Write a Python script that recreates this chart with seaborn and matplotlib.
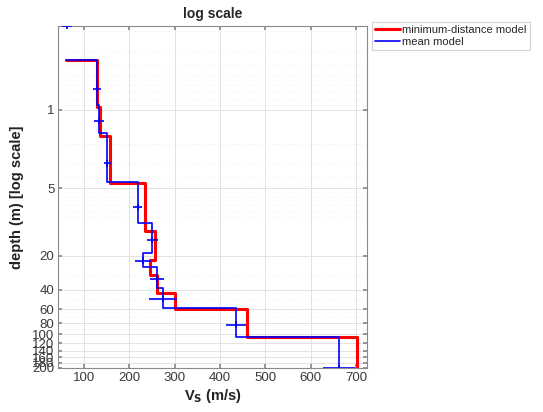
import numpy as np
import pandas as pd
import matplotlib
matplotlib.use("Agg")
import matplotlib.pyplot as plt
import seaborn as sns

# ---- data ----
v_top = 60.0
top_depth = 0.358

red_interfaces = [0.358, 0.94, 1.71, 4.49, 12.0, 21.8, 29.7, 43.1, 59.8, 105.0, 200.0]
red_vs = [128.7, 135.3, 157.4, 234.6, 256.6, 245.6, 261.0, 300.7, 459.6, 702.0]

blue_interfaces = [0.358, 0.902, 1.605, 4.39, 10.2, 18.9, 25.2, 38.8, 58.6, 105.6, 200.0]
blue_vs = [127.6, 134.0, 151.4, 218.5, 250.7, 230.0, 262.0, 275.0, 435.0, 662.5]

cross_vs = [61.8, 127.6, 134.0, 151.4, 218.5, 250.7, 230.0, 262.0, 275.0, 435.0, 662.5]
cross_depth = [0.179, 0.649, 1.25, 3.0, 7.3, 14.55, 22.05, 32.0, 48.7, 82.0, 200.0]
cross_verr = [11, 8.8, 11, 8, 10.4, 11.7, 18.3, 15.4, 31, 22, 35]
cross_derr = [0.012, 0.045, 0.08, 0.2, 0.45, 0.9, 1.4, 2.0, 3.0, 5.0, 12.0]

ytick_vals = [1, 5, 20, 40, 60, 80, 100, 120, 140, 160, 180, 200]
xtick_vals = [100, 200, 300, 400, 500, 600, 700]


def step_path(v0, interfaces, vs):
    xs = [v0]
    ys = [interfaces[0]]
    for i, v in enumerate(vs):
        xs += [v, v]
        ys += [interfaces[i], interfaces[i + 1]]
    return pd.DataFrame({"vs": xs, "depth": ys})


red_df = step_path(v_top, red_interfaces, red_vs)
blue_df = step_path(v_top, blue_interfaces, blue_vs)

sns.set_theme(style="white")
plt.rcParams['font.family'] = ['Liberation Sans', 'DejaVu Sans']

fig = plt.figure(figsize=(5.43, 4.12), dpi=100)
ax = fig.add_axes([0.1077, 0.1068, 0.5681, 0.830])

sns.lineplot(data=red_df, x="vs", y="depth", sort=False, estimator=None,
             color="#ff0000", lw=2.2, ax=ax, label="minimum-distance model")
sns.lineplot(data=blue_df, x="vs", y="depth", sort=False, estimator=None,
             color="#0000ff", lw=1.2, ax=ax, label="mean model")
ax.errorbar(cross_vs, cross_depth, xerr=cross_verr, yerr=cross_derr,
            fmt="none", ecolor="#0000ff", elinewidth=1.2, capsize=0,
            clip_on=True, zorder=4)

ax.set_yscale("log")
ax.set_ylim(200, 0.179)
ax.set_xlim(43.7, 724)
ax.set_yticks(ytick_vals)
ax.set_yticklabels([str(t) for t in ytick_vals])
ax.set_xticks(xtick_vals)
ax.set_xticklabels([str(t) for t in xtick_vals])
ax.yaxis.set_minor_locator(matplotlib.ticker.LogLocator(base=10, subs=np.arange(2, 10)))
ax.yaxis.set_minor_formatter(matplotlib.ticker.NullFormatter())

ax.grid(True, which="major", color="#e2e2e2", lw=0.7, ls="-")
ax.grid(True, which="minor", axis="y", color="#e6e6e6", lw=0.6, ls=(0, (1, 3)))
ax.set_axisbelow(True)

for s in ax.spines.values():
    s.set_color("#8a8a8a")
    s.set_linewidth(0.8)

ax.tick_params(axis="both", which="major", labelsize=9.5, labelcolor="#3a3a3a",
               direction="in", length=3, color="#8a8a8a", right=True, top=True,
               left=True, bottom=True, pad=3)
ax.tick_params(axis="y", which="minor", length=0)

ax.set_title("log scale", fontsize=10, fontweight="bold", pad=6)
ax.set_ylabel("depth (m) [log scale]", fontsize=10.5, fontweight="bold", color="#222222", labelpad=6)
ax.set_xlabel(r"V$_\mathbf{S}$ (m/s)", fontsize=10.5, fontweight="bold", color="#222222", labelpad=2)

leg = ax.legend(loc="upper left", bbox_to_anchor=(372 / 543, 1 - 22 / 412),
                bbox_transform=fig.transFigure, fontsize=8, frameon=True,
                fancybox=False, borderpad=0.3, handlelength=2.2, handletextpad=0.2,
                labelspacing=0.15, borderaxespad=0)
leg.get_frame().set_edgecolor("#c8c8c8")
leg.get_frame().set_linewidth(0.8)

fig.savefig("out.png", dpi=100)
